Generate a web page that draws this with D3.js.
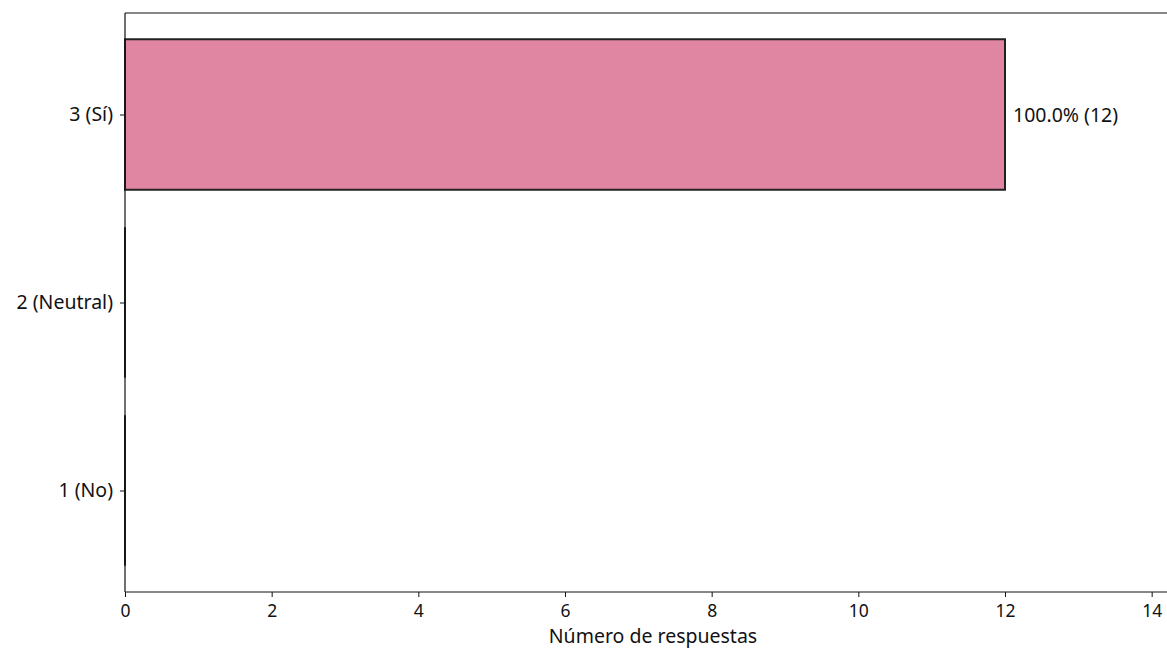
<!DOCTYPE html>
<html>
<head>
<meta charset="utf-8">
<script src="https://cdn.jsdelivr.net/npm/d3@7"></script>
<style>
  body { margin: 0; background: #fff; }
  svg { font-family: "Noto Sans", "DejaVu Sans", sans-serif; }
</style>
</head>
<body>
<svg id="chart" width="1167" height="650"></svg>
<script>
// data
var categories = ["1 (No)", "2 (Neutral)", "3 (Sí)"];
var counts = [0, 0, 12];
var total = 12;
var xTicks = [0, 2, 4, 6, 8, 10, 12, 14];

var svg = d3.select("#chart");
var plotLeft = 125, plotTop = 13, plotBottom = 592;
var fontFam = "Noto Sans";

var x = d3.scaleLinear().domain([0, 14.4]).range([plotLeft, 1181]);
// y as continuous index scale like matplotlib barh
var y = d3.scaleLinear().domain([-0.54, 2.54]).range([plotBottom, plotTop]);
var barH = 0.8;

var g = svg.append("g");

// bars drawn as paths so zero-width bars still show their edge
g.selectAll(".bar")
  .data(counts)
  .enter().append("path")
  .attr("class", "bar")
  .attr("d", function(d, i) {
    var x0 = x(0), x1 = x(d), y0 = y(i + barH / 2), y1 = y(i - barH / 2);
    return "M" + x0 + "," + y0 + "H" + x1 + "V" + y1 + "H" + x0 + "Z";
  })
  .style("fill", "#e086a3")
  .style("stroke", "#222")
  .style("stroke-width", 2);

// value labels
counts.forEach(function(d, i) {
  if (d <= 0) return;
  g.append("text")
    .attr("x", x(d) + 8)
    .attr("y", y(i))
    .attr("dy", "0.38em")
    .style("font-size", "19.5px")
    .style("fill", "#111")
    .text((d / total * 100).toFixed(1) + "% (" + d + ")");
});

// top spine
svg.append("line").attr("x1", plotLeft).attr("x2", 1167).attr("y1", plotTop).attr("y2", plotTop)
  .style("stroke", "#111").style("stroke-width", 1.2);

// x axis
var xAxis = svg.append("g")
  .attr("transform", "translate(0," + plotBottom + ")")
  .call(d3.axisBottom(x).tickValues(xTicks).tickSize(5).tickPadding(8).tickFormat(d3.format("d")));
xAxis.select(".domain").attr("d", "M" + plotLeft + ",0H1167").style("stroke", "#111").style("stroke-width", 1.2);
xAxis.selectAll("text").style("font-size", "17.5px").style("fill", "#111").style("font-family", fontFam);
xAxis.selectAll(".tick line").style("stroke", "#111");

// y axis
var yAxis = svg.append("g")
  .attr("transform", "translate(" + plotLeft + ",0)")
  .call(d3.axisLeft(y).tickValues([0, 1, 2]).tickSize(5).tickPadding(7)
    .tickFormat(function(d) { return categories[d]; }));
yAxis.select(".domain").attr("d", "M0," + plotTop + "V" + plotBottom).style("stroke", "#111").style("stroke-width", 1.2);
yAxis.selectAll("text").style("font-size", "19.5px").style("fill", "#111").style("font-family", fontFam);
yAxis.selectAll(".tick line").style("stroke", "#111");

// axis title
svg.append("text")
  .attr("x", 653).attr("y", 643)
  .attr("text-anchor", "middle")
  .style("font-size", "19.5px")
  .style("fill", "#111")
  .text("Número de respuestas");
</script>
</body>
</html>
